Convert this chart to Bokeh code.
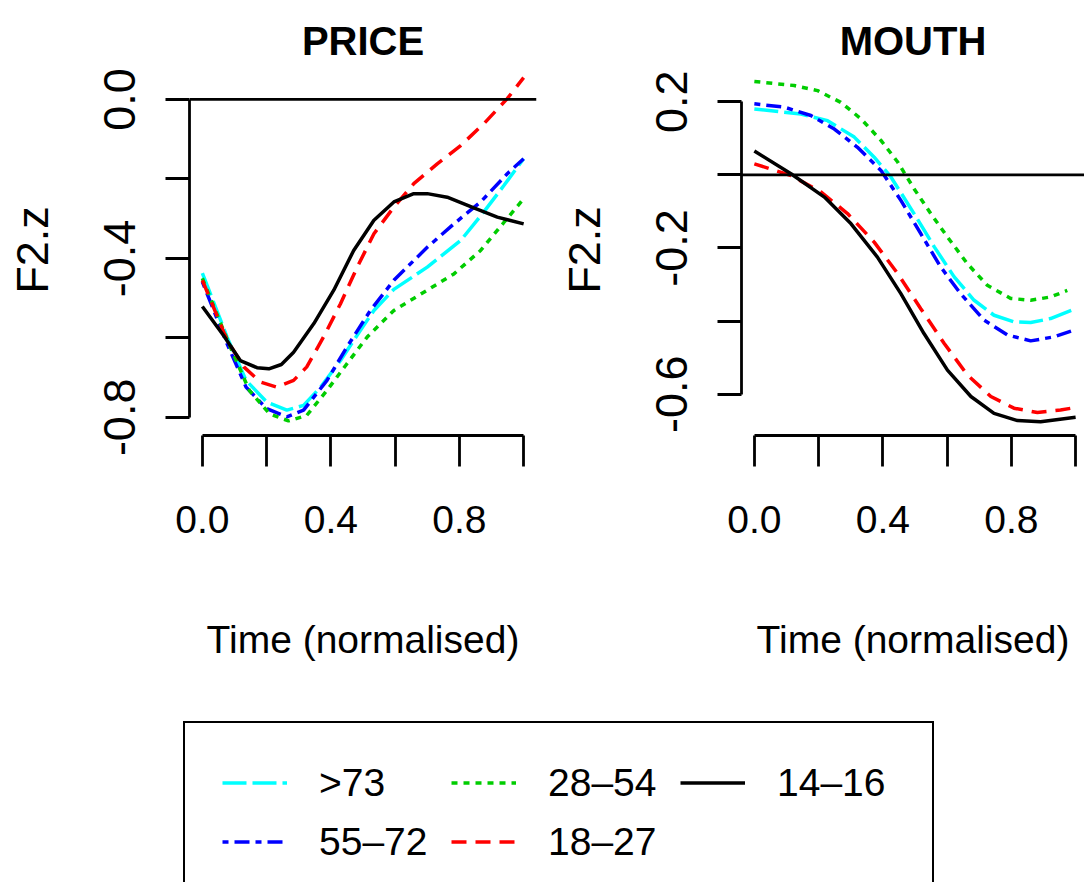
from bokeh.plotting import figure
from bokeh.models import Range1d, FixedTicker, Span, Legend, LegendItem
from bokeh.layouts import column, row
from bokeh.embed import file_html
from bokeh.resources import INLINE

# ---------------- data ----------------
GROUPS = [">73", "55\u201372", "28\u201354", "18\u201327", "14\u201316"]
COLORS = ["#00FFFF", "#0000FF", "#00CD00", "#FF0000", "#000000"]
DASHES = ["24 6", "6 6 15 6", "6 6", "15 9", "solid"]

# PRICE panel
price_t_73 = [0, 0.077, 0.136, 0.2, 0.263, 0.315, 0.368, 0.43, 0.492, 0.534, 0.596, 0.70, 0.804, 0.876, 0.939, 1.0]
price_y_73 = [-0.437, -0.598, -0.707, -0.761, -0.782, -0.770, -0.724, -0.657, -0.581, -0.531, -0.478, -0.422, -0.355, -0.283, -0.216, -0.149]
price_t_55 = [0, 0.077, 0.136, 0.2, 0.263, 0.315, 0.388, 0.45, 0.523, 0.596, 0.70, 0.783, 0.866, 0.949, 1.0]
price_y_55 = [-0.459, -0.615, -0.724, -0.778, -0.799, -0.782, -0.707, -0.623, -0.531, -0.455, -0.372, -0.313, -0.258, -0.187, -0.149]
price_t_28 = [0, 0.087, 0.146, 0.209, 0.268, 0.325, 0.388, 0.45, 0.513, 0.596, 0.70, 0.783, 0.866, 0.939, 1.0]
price_y_28 = [-0.45, -0.623, -0.732, -0.791, -0.809, -0.795, -0.732, -0.665, -0.598, -0.531, -0.480, -0.439, -0.380, -0.309, -0.25]
price_t_18 = [0, 0.077, 0.129, 0.18, 0.232, 0.284, 0.325, 0.377, 0.43, 0.482, 0.534, 0.596, 0.658, 0.731, 0.804, 0.876, 0.949, 1.0]
price_y_18 = [-0.455, -0.606, -0.673, -0.711, -0.724, -0.707, -0.673, -0.598, -0.514, -0.422, -0.338, -0.271, -0.212, -0.162, -0.116, -0.061, 0.002, 0.055]
price_t_14 = [0, 0.066, 0.118, 0.17, 0.207, 0.246, 0.284, 0.347, 0.409, 0.471, 0.534, 0.596, 0.658, 0.70, 0.762, 0.845, 0.918, 1.0]
price_y_14 = [-0.521, -0.594, -0.657, -0.675, -0.678, -0.667, -0.636, -0.564, -0.480, -0.380, -0.304, -0.258, -0.237, -0.237, -0.246, -0.273, -0.296, -0.313]

# MOUTH panel
mouth_t_73 = [0, 0.145, 0.228, 0.311, 0.373, 0.425, 0.497, 0.560, 0.622, 0.684, 0.746, 0.808, 0.860, 0.922, 1.0]
mouth_y_73 = [0.180, 0.166, 0.148, 0.103, 0.048, -0.006, -0.106, -0.197, -0.279, -0.343, -0.384, -0.402, -0.404, -0.393, -0.366]
mouth_t_55 = [0, 0.093, 0.176, 0.249, 0.321, 0.394, 0.456, 0.518, 0.580, 0.642, 0.715, 0.788, 0.860, 0.933, 1.0]
mouth_y_55 = [0.194, 0.185, 0.162, 0.125, 0.075, 0.012, -0.070, -0.161, -0.252, -0.325, -0.397, -0.438, -0.454, -0.443, -0.423]
mouth_t_28 = [0, 0.124, 0.197, 0.269, 0.332, 0.394, 0.446, 0.497, 0.549, 0.601, 0.663, 0.725, 0.798, 0.860, 0.922, 0.974]
mouth_y_28 = [0.255, 0.244, 0.230, 0.198, 0.153, 0.094, 0.035, -0.038, -0.106, -0.170, -0.243, -0.302, -0.338, -0.343, -0.334, -0.316]
mouth_t_18 = [0, 0.114, 0.207, 0.290, 0.373, 0.446, 0.518, 0.591, 0.663, 0.736, 0.808, 0.881, 0.953, 1.0]
mouth_y_18 = [0.030, -0.002, -0.047, -0.106, -0.184, -0.270, -0.366, -0.461, -0.547, -0.606, -0.638, -0.650, -0.643, -0.636]
mouth_t_14 = [0, 0.114, 0.218, 0.301, 0.383, 0.456, 0.528, 0.601, 0.674, 0.746, 0.819, 0.891, 1.0]
mouth_y_14 = [0.065, 0.003, -0.061, -0.134, -0.225, -0.325, -0.434, -0.534, -0.606, -0.652, -0.672, -0.675, -0.663]

X_TICKS = [0, 0.2, 0.4, 0.6, 0.8, 1.0]
X_LABELS = {0: "0.0", 0.2: "", 0.4: "0.4", 0.6: "", 0.8: "0.8", 1.0: ""}
PRICE_Y_TICKS = [-0.8, -0.6, -0.4, -0.2, 0.0]
PRICE_Y_LABELS = {-0.8: "-0.8", -0.6: "", -0.4: "-0.4", -0.2: "", 0.0: "0.0"}
MOUTH_Y_TICKS = [-0.6, -0.4, -0.2, 0.0, 0.2]
MOUTH_Y_LABELS = {-0.6: "-0.6", -0.4: "", -0.2: "-0.2", 0.0: "", 0.2: "0.2"}

FONT = "Liberation Sans"
FS_H = "39px"   # horizontal texts (narrow-looking in the reference)
FS_V = "45px"   # rotated texts
LW = 3.5
AW = 2.8


def make_panel(title, width, border_left, border_right, xr, yr,
               yticks, ylabels, ybounds, series):
    p = figure(width=width, height=700, x_range=Range1d(*xr), y_range=Range1d(*yr),
               output_backend="svg", toolbar_location=None,
               min_border_left=border_left, min_border_right=border_right,
               min_border_top=64, min_border_bottom=265)
    p.title.text = title
    p.title.align = "center"
    p.title.text_font = FONT
    p.title.text_font_size = "40px"
    p.title.text_font_style = "bold"
    p.title.text_color = "black"
    p.title.standoff = 3
    p.outline_line_color = None
    p.grid.visible = False
    p.background_fill_color = "white"
    p.border_fill_color = "white"

    xa = p.xaxis[0]
    xa.ticker = FixedTicker(ticks=X_TICKS, minor_ticks=[])
    xa.major_label_overrides = X_LABELS
    xa.bounds = (0, 1)
    xa.major_tick_out = 31
    xa.major_tick_in = 0
    xa.minor_tick_out = 0
    xa.axis_line_width = AW
    xa.axis_line_color = "black"
    xa.major_tick_line_width = AW
    xa.major_tick_line_color = "black"
    xa.major_label_text_font = FONT
    xa.major_label_text_font_size = FS_H
    xa.major_label_text_color = "black"
    xa.major_label_standoff = 39
    xa.axis_label = "Time (normalised)"
    xa.axis_label_text_font = FONT
    xa.axis_label_text_font_size = FS_H
    xa.axis_label_text_font_style = "normal"
    xa.axis_label_text_color = "black"
    xa.axis_label_standoff = 82

    ya = p.yaxis[0]
    ya.ticker = FixedTicker(ticks=yticks, minor_ticks=[])
    ya.major_label_overrides = ylabels
    ya.bounds = ybounds
    ya.major_tick_out = 24
    ya.major_tick_in = 0
    ya.minor_tick_out = 0
    ya.axis_line_width = AW
    ya.axis_line_color = "black"
    ya.major_tick_line_width = AW
    ya.major_tick_line_color = "black"
    ya.major_label_orientation = "vertical"
    ya.major_label_text_font = FONT
    ya.major_label_text_font_size = FS_V
    ya.major_label_text_color = "black"
    ya.major_label_standoff = 30
    ya.axis_label = "F2.z"
    ya.axis_label_text_font = FONT
    ya.axis_label_text_font_size = FS_V
    ya.axis_label_text_font_style = "normal"
    ya.axis_label_text_color = "black"
    ya.axis_label_standoff = 44

    p.add_layout(Span(location=0, dimension="width", line_color="black", line_width=AW))
    for (t, y), color, dash in zip(series, COLORS, DASHES):
        p.line(t, y, line_color=color, line_dash=dash, line_width=LW)
    return p


price_series = [(price_t_73, price_y_73), (price_t_55, price_y_55), (price_t_28, price_y_28),
                (price_t_18, price_y_18), (price_t_14, price_y_14)]
mouth_series = [(mouth_t_73, mouth_y_73), (mouth_t_55, mouth_y_55), (mouth_t_28, mouth_y_28),
                (mouth_t_18, mouth_y_18), (mouth_t_14, mouth_y_14)]

p1 = make_panel("PRICE", 550, 189, 14, (-0.04, 1.04), (-0.8457, 0.088),
                PRICE_Y_TICKS, PRICE_Y_LABELS, (-0.8, 0.0), price_series)
p2 = make_panel("MOUTH", 534, 191, 0, (-0.04, 1.0276), (-0.7127, 0.3015),
                MOUTH_Y_TICKS, MOUTH_Y_LABELS, (-0.6, 0.2), mouth_series)

# legend panel (its sample lines lie outside the visible range; only the key shows)
p3 = figure(width=1084, height=182, x_range=Range1d(5, 6), y_range=Range1d(5, 6),
            output_backend="svg", toolbar_location=None, min_border=0,
            x_axis_type=None, y_axis_type=None)
p3.outline_line_color = None
p3.grid.visible = False
items = []
for name, (t, y), color, dash in zip(GROUPS, price_series, COLORS, DASHES):
    r = p3.line(t, y, line_color=color, line_dash=dash, line_width=LW)
    items.append(LegendItem(label=name, renderers=[r]))
leg = Legend(items=items, location=(183, -21), orientation="vertical", nrows=2,
             label_text_font=FONT, label_text_font_size=FS_H, label_text_color="black",
             label_height=45, glyph_height=45, glyph_width=65, label_standoff=32,
             label_width=118, spacing=14, padding=37, margin=0,
             border_line_color="black", border_line_width=AW, border_line_alpha=1.0,
             background_fill_color="white", background_fill_alpha=1.0)
p3.add_layout(leg, "center")

layout = column(row(p1, p2), p3)
open("out.html", "w").write(file_html(layout, INLINE))
